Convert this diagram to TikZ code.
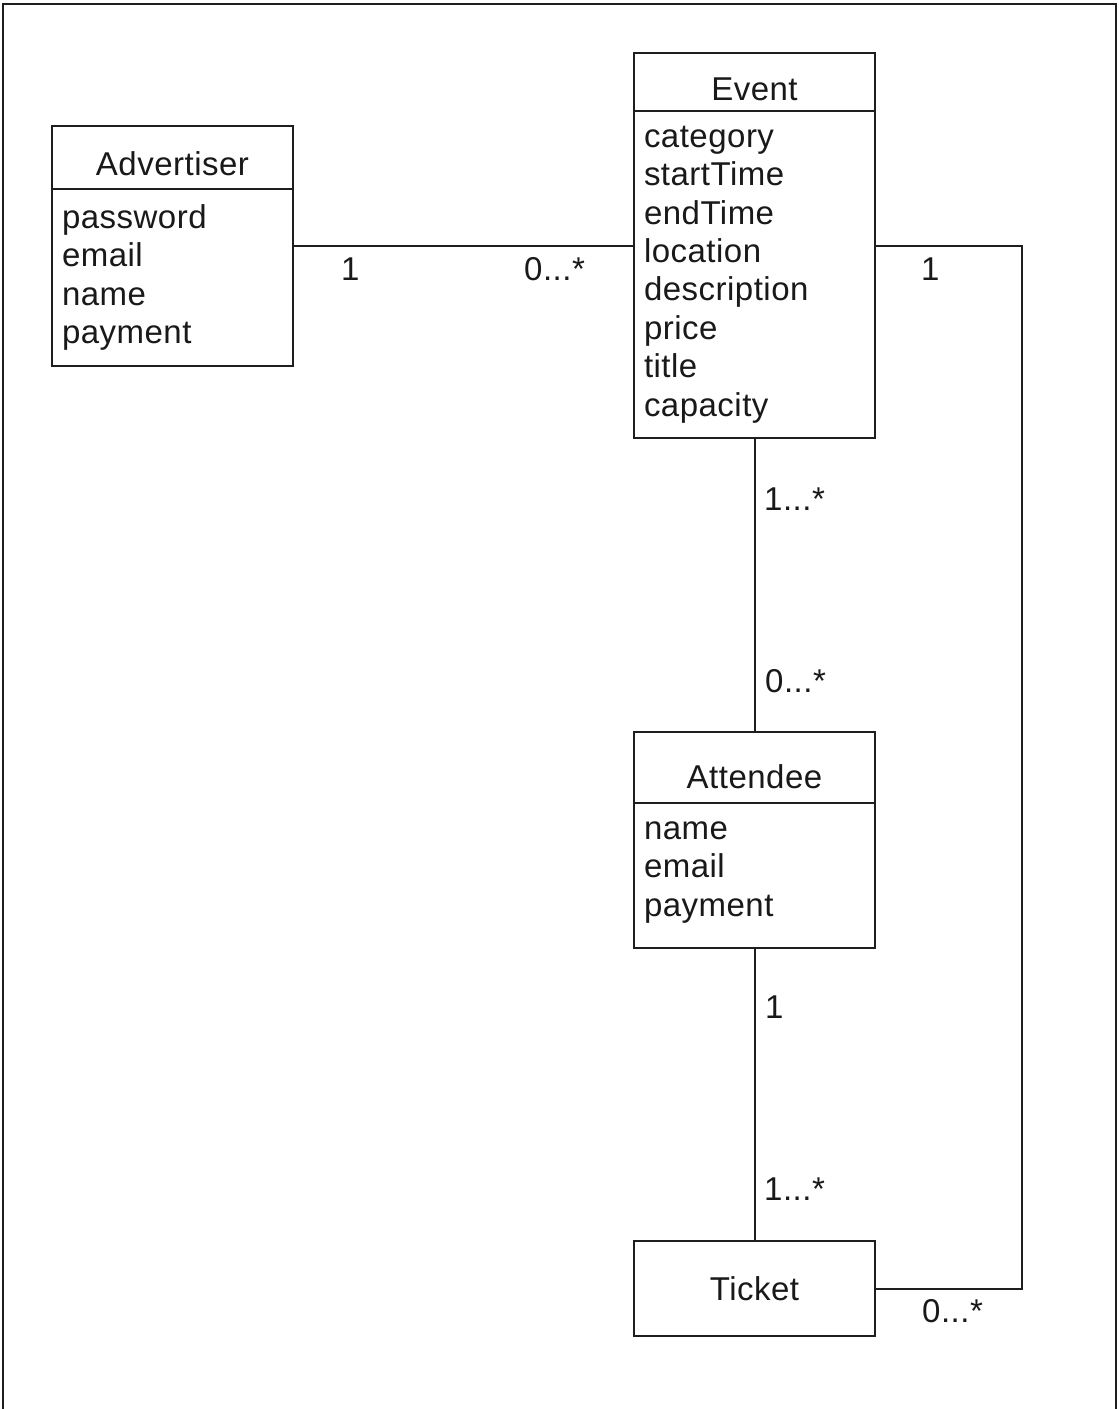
\documentclass[tikz,border=0pt]{standalone}
\usepackage{fontspec}
\setmainfont[LetterSpace=1.5]{Liberation Sans}
\usepackage{xcolor}
\usetikzlibrary{positioning,fit}
\definecolor{umlLine}{RGB}{30,30,30}
\definecolor{umlText}{RGB}{25,25,25}
\newcommand{\umlFont}{\fontsize{33}{38.4}\selectfont}
\tikzset{
  classBox/.style={draw=umlLine,line width=2pt,minimum width=241pt,inner sep=0pt,outer sep=0pt,font=\umlFont,text=umlText},
  classHead/.style={classBox,text height=36pt,text depth=0pt},
  classBody/.style={draw=umlLine,line width=2pt,text width=221pt,inner xsep=10pt,inner ysep=0pt,outer sep=0pt,align=left,font=\umlFont,text=umlText},
  classGroup/.style={inner sep=0pt,outer sep=0pt},
  multLabel/.style={anchor=base west,inner sep=0pt,font=\umlFont,text=umlText},
  assoc/.style={draw=umlLine,line width=2pt}
}
\begin{document}
\begin{tikzpicture}[x=1pt,y=-1pt]
\useasboundingbox (0,0) rectangle (1119,1409);
\draw[umlLine,line width=2pt] (3,1409) -- (3,3.5) -- (1116,3.5) -- (1116,1409);

% classes
\node[classHead,anchor=north west,minimum height=63pt] (advHead) at (52,126) {Advertiser};
\node[classBody,below=0pt of advHead,minimum height=177pt] (advBody) {password\\email\\name\\payment};
\node[classGroup,fit=(advHead)(advBody)] (advertiser) {};

\node[classHead,anchor=north west,minimum height=58pt] (eventHead) at (634,53) {Event};
\node[classBody,below=0pt of eventHead,minimum height=327pt] (eventBody) {category\\startTime\\endTime\\location\\description\\price\\title\\capacity};
\node[classGroup,fit=(eventHead)(eventBody)] (event) {};

\node[classHead,anchor=north west,minimum height=71pt,text height=42pt] (attHead) at (634,732) {Attendee};
\node[classBody,below=0pt of attHead,minimum height=145pt] (attBody) {name\\email\\payment\vspace{6pt}};
\node[classGroup,fit=(attHead)(attBody)] (attendee) {};

\node[classBox,anchor=north west,minimum height=95pt] (ticket) at (634,1241) {Ticket};

% associations
\draw[assoc] (advertiser.east) -- (advertiser.east -| event.west);
\draw[assoc] (event.east) -- ++(147,0) |- (ticket.east);
\draw[assoc] (event) -- (attendee);
\draw[assoc] (attendee) -- (ticket);

% multiplicities
\node[multLabel] (advMult) at (341,280) {1};
\node[multLabel] (eventAdvMult) at (524,280) {0...*};
\node[multLabel] (eventTicketMult) at (921,280) {1};
\node[multLabel] (eventAttMult) at (764,510) {1...*};
\node[multLabel] (attEventMult) at (765,692) {0...*};
\node[multLabel] (attTicketMult) at (765,1018) {1};
\node[multLabel] (ticketAttMult) at (764,1200) {1...*};
\node[multLabel] (ticketEventMult) at (922,1322) {0...*};
\end{tikzpicture}
\end{document}
